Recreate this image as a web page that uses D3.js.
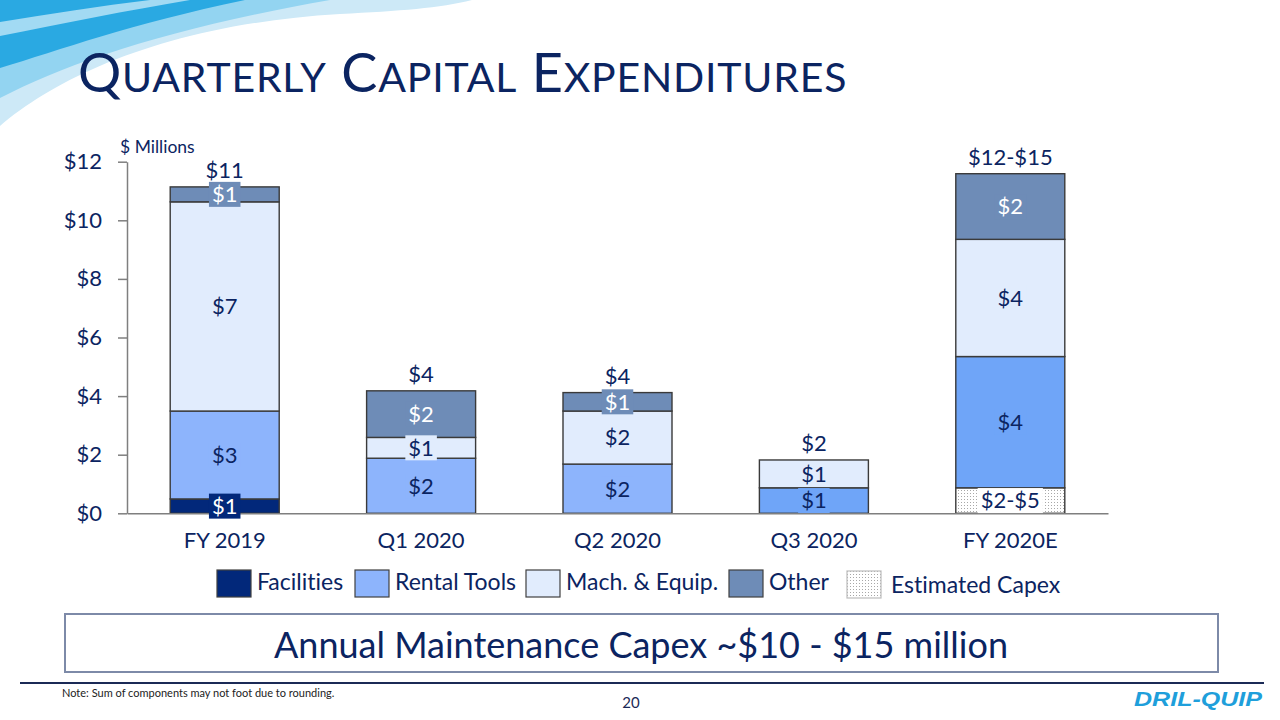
<!DOCTYPE html>
<html><head><meta charset="utf-8">
<script src="https://cdn.jsdelivr.net/npm/d3@7"></script>
<style>
body{margin:0;background:#fff;}
svg{display:block;font-family:Lato,"Open Sans",sans-serif;font-variant-ligatures:none;}
</style>
</head><body>
<svg id="c" width="1280" height="720"></svg>
<script>
// ---------- data ----------
const categories = ["FY 2019", "Q1 2020", "Q2 2020", "Q3 2020", "FY 2020E"];
const estimatedCapex = [0, 0, 0, 0, 0.87];
const facilities     = [0.49, 0, 0, 0, 0];
const rentalTools    = [3.00, 1.88, 1.68, 0.87, 4.48];
const machEquip      = [7.14, 0.71, 1.81, 0.95, 4.00];
const other          = [0.51, 1.59, 0.63, 0, 2.24];

const estimatedLabels  = ["", "", "", "", "$2-$5"];
const facilitiesLabels = ["$1", "", "", "", ""];
const rentalLabels     = ["$3", "$2", "$2", "$1", "$4"];
const machLabels       = ["$7", "$1", "$2", "$1", "$4"];
const otherLabels      = ["$1", "$2", "$1", "", "$2"];
const totalLabels      = ["$11", "$4", "$4", "$2", "$12-$15"];

const yTicks = [0, 2, 4, 6, 8, 10, 12];
const legendNames = ["Facilities", "Rental Tools", "Mach. & Equip.", "Other", "Estimated Capex"];

// ---------- styles ----------
const NAVY = "#0b2461";
const FS = 22;
const FONT = "Lato, 'Open Sans', sans-serif";
const svg = d3.select("#c");
const defs = svg.append("defs");
const pat = defs.append("pattern").attr("id", "dots").attr("width", 3).attr("height", 3)
  .attr("patternUnits", "userSpaceOnUse");
pat.append("rect").attr("width", 3).attr("height", 3).attr("fill", "#fff");
pat.append("rect").attr("x", 1).attr("y", 1).attr("width", 1).attr("height", 1).attr("fill", "#a8a8a8");

const rentalDeep = new Set(["Q3 2020", "FY 2020E"]);
const series = [
  {key: "Estimated Capex", values: estimatedCapex, labels: estimatedLabels, fill: () => "url(#dots)", box: () => "#fff", text: NAVY},
  {key: "Facilities", values: facilities, labels: facilitiesLabels, fill: () => "#02287a", box: () => "#02287a", text: "#fff"},
  {key: "Rental Tools", values: rentalTools, labels: rentalLabels,
    fill: c => rentalDeep.has(c) ? "#6fa5f8" : "#8db4fc", box: c => rentalDeep.has(c) ? "#6fa5f8" : "#8db4fc", text: NAVY},
  {key: "Mach. & Equip.", values: machEquip, labels: machLabels, fill: () => "#e1ecfd", box: () => "#e1ecfd", text: NAVY},
  {key: "Other", values: other, labels: otherLabels, fill: () => "#6e8cb7", box: () => "#6e8cb7", text: "#fff"}
];

// ---------- decorative swoosh ----------
const sw = svg.append("g");
sw.append("path").attr("fill", "#cde9f7").attr("d", "M0,126 C60,75 170,24 340,14 C400,11 440,8 472,0 L0,0 Z");
sw.append("path").attr("fill", "#93d4f1").attr("d", "M0,98 C70,62 170,28 330,0 L0,0 Z");
sw.append("path").attr("fill", "#2aa9e2").attr("d", "M0,68 C60,50 130,24 245,0 L0,0 Z");
sw.append("path").attr("fill", "#a2daf3").attr("d", "M0,22 C50,14 100,6 150,0 L190,0 C130,10 60,24 0,36 Z");

// ---------- title ----------
const title = svg.append("text").attr("x", 78).attr("y", 92).attr("fill", NAVY)
  .attr("letter-spacing", 0.8);
"QUARTERLY CAPITAL EXPENDITURES".split(" ").forEach((w, i) => {
  title.append("tspan").attr("font-size", 54).text((i ? " " : "") + w[0]);
  title.append("tspan").attr("font-size", 41).text(w.slice(1));
});

// ---------- scales ----------
const x = d3.scaleBand().domain(categories).range([127, 1108]).paddingInner(0.445).paddingOuter(0.22);
const y = d3.scaleLinear().domain([0, 12]).range([513.3, 161.7]);

// axes
const yAx = svg.append("g").attr("transform", "translate(127,0)")
  .call(d3.axisLeft(y).tickValues(yTicks).tickFormat(d => "$" + d).tickSize(9).tickSizeOuter(0).tickPadding(16))
  .attr("font-family", FONT).attr("font-size", FS);
yAx.select(".domain").attr("stroke", "#7f7f7f").attr("stroke-width", 1.5);
yAx.selectAll(".tick line").attr("stroke", "#7f7f7f").attr("stroke-width", 1.5);
yAx.selectAll("text").attr("fill", NAVY);

svg.append("text").attr("x", 120).attr("y", 153).attr("font-size", 17.5).attr("fill", NAVY).text("$ Millions");

// stacked data
const rows = categories.map((c, i) => {
  const r = {category: c};
  series.forEach(s => r[s.key] = s.values[i]);
  return r;
});
const stacked = d3.stack().keys(series.map(s => s.key))(rows);

const barG = svg.append("g");
stacked.forEach((layer, li) => {
  const s = series[li];
  barG.selectAll(null).data(layer.filter(d => d[1] - d[0] > 0)).join("rect")
    .attr("x", d => x(d.data.category))
    .attr("width", x.bandwidth())
    .attr("y", d => y(d[1]))
    .attr("height", d => y(d[0]) - y(d[1]))
    .attr("fill", d => s.fill(d.data.category))
    .attr("stroke", "#3a3a3a").attr("stroke-width", 1.4);
});

// x axis
const xAx = svg.append("g").attr("transform", `translate(0,${y(0)})`)
  .call(d3.axisBottom(x).tickSize(0).tickSizeOuter(0).tickPadding(19))
  .attr("font-family", FONT).attr("font-size", FS);
xAx.select(".domain").attr("stroke", "#7f7f7f").attr("stroke-width", 1.5);
xAx.selectAll("text").attr("fill", NAVY);

// segment labels
const labG = svg.append("g");
stacked.forEach((layer, li) => {
  const s = series[li];
  layer.forEach((d, i) => {
    const lbl = s.labels[i];
    if (!lbl || d[1] - d[0] <= 0) return;
    const c = d.data.category;
    const cx = x(c) + x.bandwidth() / 2;
    const cy = (y(d[0]) + y(d[1])) / 2;
    const g = labG.append("g");
    const t = g.append("text").attr("x", cx).attr("y", cy).attr("dy", "0.36em")
      .attr("text-anchor", "middle").attr("font-size", FS).attr("fill", s.text).text(lbl);
    const bb = t.node().getBBox();
    g.insert("rect", "text").attr("x", bb.x - 3).attr("y", cy - 12.5)
      .attr("width", bb.width + 6).attr("height", 25).attr("fill", s.box(c));
  });
});

// totals
const totals = categories.map((c, i) => d3.sum(series, s => s.values[i]));
svg.append("g").selectAll("text").data(categories).join("text")
  .attr("x", c => x(c) + x.bandwidth() / 2)
  .attr("y", (c, i) => y(totals[i]) - 9)
  .attr("text-anchor", "middle").attr("font-size", FS).attr("fill", NAVY)
  .text((c, i) => totalLabels[i]);

// legend
const legendX = [217, 355, 526, 729, 847];
const legendFill = {"Facilities": "#02287a", "Rental Tools": "#8db4fc", "Mach. & Equip.": "#e1ecfd", "Other": "#6e8cb7", "Estimated Capex": "url(#dots)"};
const lg = svg.append("g");
legendNames.forEach((n, i) => {
  const est = n === "Estimated Capex";
  lg.append("rect").attr("x", legendX[i]).attr("y", est ? 571 : 570).attr("width", 34).attr("height", 27)
    .attr("fill", legendFill[n]).attr("stroke", est ? "#bdbdbd" : "#404040").attr("stroke-width", 1.2);
  lg.append("text").attr("x", legendX[i] + (est ? 44 : 40)).attr("y", est ? 593 : 590)
    .attr("font-size", 23).attr("fill", NAVY).text(n);
});

// annual maintenance box
svg.append("rect").attr("x", 65).attr("y", 614).attr("width", 1153).attr("height", 58)
  .attr("fill", "#fff").attr("stroke", "#7d8aa8").attr("stroke-width", 2);
svg.append("text").attr("x", 641).attr("y", 658).attr("text-anchor", "middle")
  .attr("font-size", 36).attr("fill", NAVY).text("Annual Maintenance Capex ~$10 - $15 million");

// footer
svg.append("line").attr("x1", 20).attr("x2", 1264).attr("y1", 683).attr("y2", 683)
  .attr("stroke", "#1b2a56").attr("stroke-width", 2);
svg.append("text").attr("x", 62).attr("y", 697).attr("font-size", 11).attr("fill", "#222").text("Note: Sum of components may not foot due to rounding.");
svg.append("text").attr("x", 631).attr("y", 708).attr("text-anchor", "middle").attr("font-size", 15).attr("fill", "#1b2a56").text("20");
svg.append("text").attr("x", 1134).attr("y", 706).attr("font-size", 20).attr("font-weight", 900)
  .attr("font-style", "italic").attr("font-family", "Liberation Sans, Arial, sans-serif")
  .attr("fill", "#1f9fdb").attr("textLength", 128).attr("lengthAdjust", "spacingAndGlyphs").text("DRIL-QUIP");
</script>
</body></html>
